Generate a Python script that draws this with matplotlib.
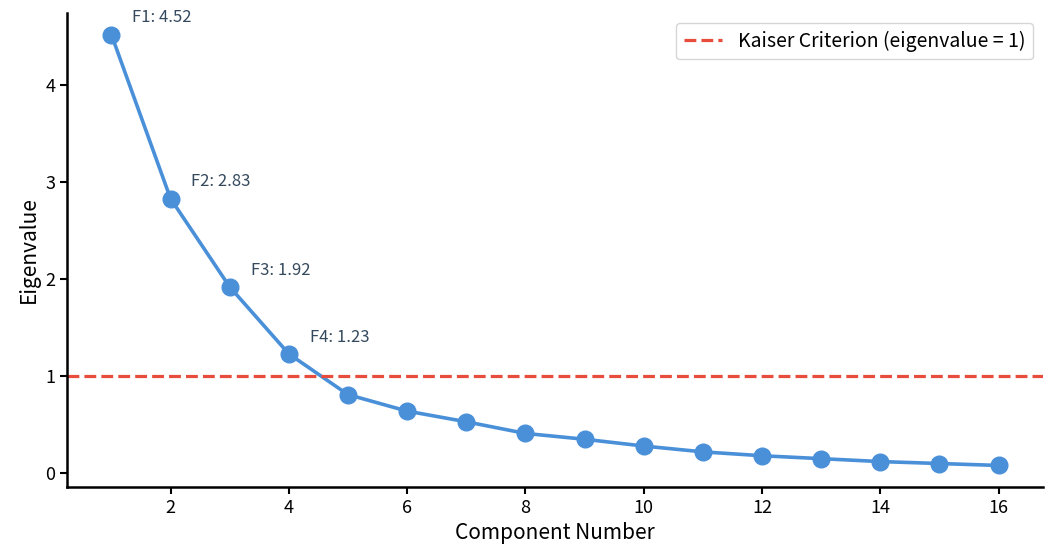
import matplotlib.pyplot as plt

plt.rcParams['font.family'] = ['Noto Sans CJK SC', 'DejaVu Sans']

components = list(range(1, 17))
eigenvalues = [4.52, 2.83, 1.92, 1.23, 0.81, 0.64, 0.53, 0.41, 0.35, 0.28,
               0.22, 0.18, 0.15, 0.12, 0.10, 0.08]
labels = ["F1", "F2", "F3", "F4"]

fig = plt.figure(figsize=(10.51, 5.54), dpi=100)
ax = fig.add_axes([67 / 1051, 67 / 554, 976 / 1051, 474 / 554])

ax.plot(components, eigenvalues, color="#4a90d9", linewidth=2.6,
        marker="o", markersize=12)
ax.axhline(1, color="#e74c3c", linestyle="--", linewidth=2.3,
           label="Kaiser Criterion (eigenvalue = 1)")

for i, lab in enumerate(labels):
    ax.annotate(f"{lab}: {eigenvalues[i]:.2f}", (components[i], eigenvalues[i]),
                xytext=(15, 12), textcoords="offset points",
                ha="left", va="center", fontsize=12, color="#34495e")

ax.set_xlabel("Component Number", fontsize=15)
ax.set_ylabel("Eigenvalue", fontsize=15)
ax.tick_params(labelsize=13, width=1.5, length=5)
ax.spines["top"].set_visible(False)
ax.spines["right"].set_visible(False)
ax.spines["left"].set_linewidth(1.8)
ax.spines["bottom"].set_linewidth(1.8)
ax.legend(loc="upper right", fontsize=14)

plt.savefig("out.png")
